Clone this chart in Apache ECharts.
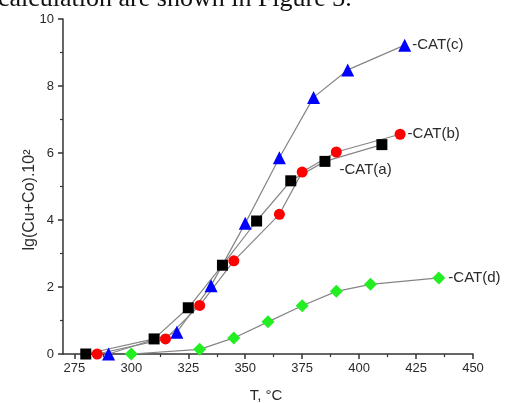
<!DOCTYPE html>
<html>
<head>
<meta charset="utf-8">
<script src="https://cdn.jsdelivr.net/npm/echarts@6/dist/echarts.min.js"></script>
<style>
html,body{margin:0;padding:0;background:#fff;}
#c{width:508px;height:403px;}
</style>
</head>
<body>
<div id="c"></div>
<script>
// Data
const catA_T = [280, 310, 325, 340, 355, 370, 385, 410];
const catA_Y = [0, 0.45, 1.38, 2.65, 3.97, 5.17, 5.75, 6.25];
const catB_T = [285, 315, 330, 345, 365, 375, 390, 418];
const catB_Y = [0, 0.45, 1.45, 2.78, 4.17, 5.43, 6.03, 6.56];
const catC_T = [290, 320, 335, 350, 365, 380, 395, 420];
const catC_Y = [0, 0.65, 2.04, 3.9, 5.86, 7.66, 8.48, 9.22];
const catD_T = [300, 330, 345, 360, 375, 390, 405, 435];
const catD_Y = [0, 0.14, 0.48, 0.96, 1.44, 1.87, 2.08, 2.27];
const seriesNames = ['-CAT(a)', '-CAT(b)', '-CAT(c)', '-CAT(d)'];
const xMajorTicks = [275, 300, 325, 350, 375, 400, 425, 450];
const xMinorTicks = [287.5, 312.5, 337.5, 362.5, 387.5, 412.5, 437.5];
const xTitle = 'T, °C';
const yTitle = 'lg(Cu+Co).10²';
const topText = 'calculation are shown in Figure 3.';

const labelIdx = [6, 7, 7, 7];

function build(T, Y, idx, lblCfg) {
  return T.map((t, i) => {
    const item = { value: [t, Y[i]] };
    if (i === idx) item.label = Object.assign({ show: true }, lblCfg);
    return item;
  });
}

const txt = '#2a2a2a';
const font = 'Liberation Sans, Arial, sans-serif';
const lineStyle = { color: '#858585', width: 1.2 };
const lbl = { fontSize: 15, color: txt, fontFamily: font, formatter: '{a}' };

const chart = echarts.init(document.getElementById('c'), null, { renderer: 'canvas' });
chart.setOption({
  animation: false,
  backgroundColor: '#fff',
  grid: { left: 63, right: 35, top: 19, bottom: 49, containLabel: false },
  xAxis: [{
    type: 'value', min: 270, max: 450,
    axisLine: { lineStyle: { color: '#333', width: 1.5 } },
    axisTick: { customValues: xMajorTicks, length: 5, lineStyle: { color: '#333', width: 1.5 } },
    axisLabel: { customValues: xMajorTicks, fontSize: 13, color: txt, fontFamily: font, margin: 8 },
    splitLine: { show: false }
  }, {
    type: 'value', min: 270, max: 450, position: 'bottom',
    axisLine: { show: false },
    axisTick: { customValues: xMinorTicks, length: 3, lineStyle: { color: '#333', width: 1.2 } },
    axisLabel: { show: false },
    splitLine: { show: false }
  }],
  yAxis: {
    type: 'value', min: 0, max: 10, interval: 2,
    axisLine: { show: true, lineStyle: { color: '#333', width: 1.5 } },
    axisTick: { show: true, length: 5, lineStyle: { color: '#333', width: 1.5 } },
    minorTick: { show: true, splitNumber: 2, length: 3, lineStyle: { color: '#333', width: 1.2 } },
    axisLabel: { fontSize: 13, color: txt, fontFamily: font, margin: 9 },
    splitLine: { show: false }
  },
  graphic: [
    { type: 'text', left: -2, top: -14, style: { text: topText, font: '26px "Liberation Serif", "Times New Roman", serif', fill: '#111' } },
    { type: 'text', x: 30, y: 200, rotation: Math.PI / 2, style: { text: yTitle, fontSize: 16, fontFamily: font, fill: txt, align: 'center', verticalAlign: 'middle' } },
    { type: 'text', x: 266, y: 388, style: { text: xTitle, fontSize: 15, fontFamily: font, fill: txt, align: 'center', verticalAlign: 'top' } }
  ],
  series: [
    { name: seriesNames[0], type: 'line', symbol: 'rect', symbolSize: 11, itemStyle: { color: '#000' }, lineStyle: lineStyle,
      data: build(catA_T, catA_Y, labelIdx[0], Object.assign({}, lbl, { position: 'right', offset: [4, 8] })) },
    { name: seriesNames[1], type: 'line', symbol: 'circle', symbolSize: 11, itemStyle: { color: '#ff0000' }, lineStyle: lineStyle,
      data: build(catB_T, catB_Y, labelIdx[1], Object.assign({}, lbl, { position: 'right', distance: 2 })) },
    { name: seriesNames[2], type: 'line', symbol: 'triangle', symbolSize: 13, itemStyle: { color: '#0000ff' }, lineStyle: lineStyle,
      data: build(catC_T, catC_Y, labelIdx[2], Object.assign({}, lbl, { position: 'right', distance: 1 })) },
    { name: seriesNames[3], type: 'line', symbol: 'diamond', symbolSize: 13, itemStyle: { color: '#22ee22' }, lineStyle: lineStyle,
      data: build(catD_T, catD_Y, labelIdx[3], Object.assign({}, lbl, { position: 'right', distance: 3 })) }
  ]
});
</script>
</body>
</html>
